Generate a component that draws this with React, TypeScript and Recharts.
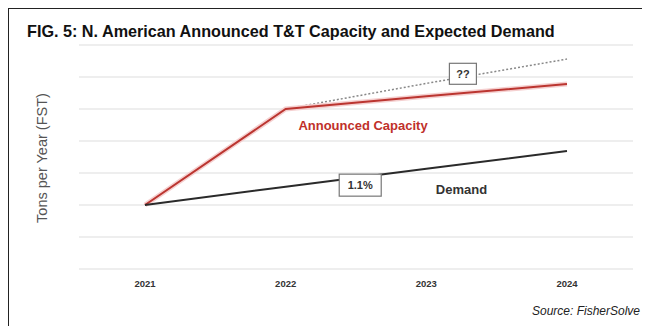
import React from "react";
import { LineChart, Line, XAxis, YAxis, CartesianGrid, ReferenceDot } from "recharts";

const years = [2021, 2022, 2023, 2024];
const capacity = [2.0, 5.0, 5.4, 5.78];
const upside = [null, 5.0, 5.8, 6.56];
const demand = [2.0, 2.57, 3.13, 3.69];
const yTicks = [0, 1, 2, 3, 4, 5, 6];

const data = years.map((y, i) => ({ year: y, capacity: capacity[i], upside: upside[i], demand: demand[i] }));

const FONT = "'Liberation Sans', Arial, sans-serif";

const BoxLabel = (text: string, w: number, h: number) => (props: any) => {
  const { cx, cy } = props;
  return (
    <g>
      <rect x={cx - w / 2} y={cy - h / 2} width={w} height={h} fill="#fff" stroke="#777" strokeWidth={1.2} />
      <text x={cx} y={cy} textAnchor="middle" dominantBaseline="central" fontFamily={FONT} fontWeight="bold" fontSize={11} fill="#333">
        {text}
      </text>
    </g>
  );
};

const TextLabel = (text: string, color: string, size: number) => (props: any) => {
  const { cx, cy } = props;
  return (
    <text x={cx} y={cy} textAnchor="middle" dominantBaseline="central" fontFamily={FONT} fontWeight="bold" fontSize={size} fill={color}>
      {text}
    </text>
  );
};

export default function App() {
  return (
    <div style={{ position: "relative", width: 642, height: 318, background: "#fff" }}>
      <div style={{ position: "absolute", left: 0, top: 0, width: 642, height: 318, borderLeft: "1.5px solid #222", borderTop: "1.5px solid #222", boxSizing: "border-box" }} />
      <div style={{ position: "absolute", left: 19, top: 14, fontFamily: FONT, fontWeight: "bold", fontSize: 16.2, color: "#111", whiteSpace: "nowrap" }}>
        FIG. 5: N. American Announced T&amp;T Capacity and Expected Demand
      </div>
      <div style={{ position: "absolute", left: 34, top: 150, width: 0, height: 0 }}>
        <div style={{ position: "absolute", transform: "translate(-50%, -50%) rotate(-90deg)", fontFamily: FONT, fontSize: 14.5, color: "#555", whiteSpace: "nowrap" }}>
          Tons per Year (FST)
        </div>
      </div>
      <div style={{ position: "absolute", right: 10, top: 296, fontFamily: FONT, fontStyle: "italic", fontSize: 12, color: "#222", whiteSpace: "nowrap" }}>
        Source: FisherSolve
      </div>
      <div style={{ position: "absolute", left: 0, top: 0 }}>
        <LineChart width={642} height={318} data={data} margin={{ top: 37, right: 17, left: 71, bottom: 27 }}>
          <CartesianGrid horizontal vertical={false} stroke="#e8e8e8" strokeWidth={1.5} />
          <XAxis
            dataKey="year"
            type="number"
            domain={[2021, 2024]}
            ticks={years}
            padding={{ left: 66, right: 66 }}
            axisLine={false}
            tickLine={false}
            height={30}
            tickMargin={5}
            tick={{ fontFamily: FONT, fontWeight: "bold", fontSize: 9.5, fill: "#333" }}
          />
          <YAxis hide domain={[0, 7]} ticks={yTicks} />
          <Line dataKey="upside" stroke="#888" strokeWidth={1.5} strokeDasharray="2 2" dot={false} isAnimationActive={false} connectNulls />
          <Line dataKey="capacity" stroke="#f5d0d0" strokeWidth={5} dot={false} isAnimationActive={false} />
          <Line dataKey="capacity" stroke="#bb3530" strokeWidth={2} dot={false} isAnimationActive={false} />
          <Line dataKey="demand" stroke="#2a2a2a" strokeWidth={2} dot={false} isAnimationActive={false} />
          <ReferenceDot x={2022.55} y={4.5} r={0} shape={TextLabel("Announced Capacity", "#c0302a", 13)} />
          <ReferenceDot x={2023.25} y={2.47} r={0} shape={TextLabel("Demand", "#333", 13)} />
          <ReferenceDot x={2022.53} y={2.62} r={0} shape={BoxLabel("1.1%", 42, 22)} />
          <ReferenceDot x={2023.26} y={6.1} r={0} shape={BoxLabel("??", 27, 21)} />
        </LineChart>
      </div>
    </div>
  );
}
